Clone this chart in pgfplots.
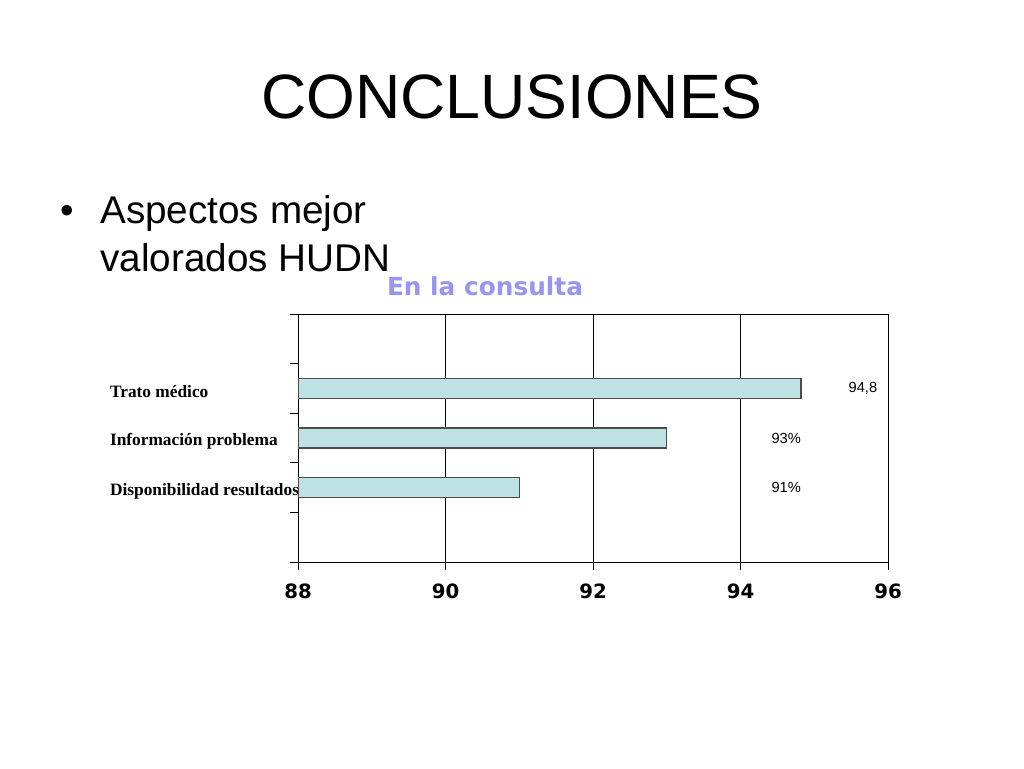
\documentclass[border=0pt]{standalone}
\usepackage{pgfplots}
\pgfplotsset{compat=1.18}
\usepackage{fontspec}
\setmainfont{Liberation Sans}
\newfontfamily\verd{DejaVu Sans}
\newfontfamily\tnr{Liberation Serif}
\definecolor{barfill}{RGB}{190,225,228}
\definecolor{subt}{RGB}{150,150,240}
\begin{document}
\begin{tikzpicture}
\fill[white] (0,0) rectangle (768pt,576pt);
\node[anchor=base, inner sep=0] at (384pt,487.3pt) {\fontsize{47pt}{50pt}\selectfont CONCLUSIONES};
\node[anchor=base, inner sep=0] at (50.6pt,408.5pt) {\fontsize{29pt}{32pt}\selectfont •};
\node[anchor=base west, inner sep=0] at (75pt,408.5pt) {\fontsize{29pt}{32pt}\selectfont Aspectos mejor};
\node[anchor=base west, inner sep=0] at (75pt,372.2pt) {\fontsize{29pt}{32pt}\selectfont valorados HUDN};
\node[anchor=center, inner sep=0, text=subt] at (363.75pt,361.5pt) {\verd\bfseries\fontsize{18.6pt}{20pt}\selectfont En la consulta};
\begin{axis}[
  at={(223.5pt,154.5pt)}, anchor=south west,
  scale only axis, width=442.5pt, height=186pt,
  xmin=88, xmax=96, ymin=0, ymax=5,
  xtick={88,90,92,94,96},
  xmajorgrids, grid style={black, line width=0.6pt},
  axis line style={black, line width=0.7pt},
  ytick={0,1,2,3,4,5}, yticklabels={},
  extra y ticks={1.5,2.5,3.5},
  extra y tick labels={Disponibilidad resultados, Información problema, Trato médico},
  extra y tick style={major tick length=0pt, grid=none,
     yticklabel style={anchor=west, xshift=-144.5pt, yshift=-2.5pt, font=\tnr\bfseries\fontsize{13pt}{14pt}\selectfont}},
  tick align=outside, major tick length=6pt,
  tick style={black, line width=0.6pt},
  xtick pos=bottom, ytick pos=left,
  xticklabel style={font=\verd\bfseries\fontsize{14.8pt}{16pt}\selectfont, yshift=-6.5pt},
  /pgf/number format/assume math mode=true,
  xbar, bar width=15pt, bar shift=0pt,
  clip=true,
]
\addplot[fill=barfill, draw=black!70, line width=0.8pt] coordinates {(91,1.5) (93,2.5) (94.82,3.5)};
\node[font=\fontsize{11pt}{12pt}\selectfont] at (axis cs:95.66,3.5) {94,8};
\node[font=\fontsize{11pt}{12pt}\selectfont] at (axis cs:94.62,2.5) {93\%};
\node[font=\fontsize{11pt}{12pt}\selectfont] at (axis cs:94.62,1.5) {91\%};
\end{axis}
\end{tikzpicture}
\end{document}
